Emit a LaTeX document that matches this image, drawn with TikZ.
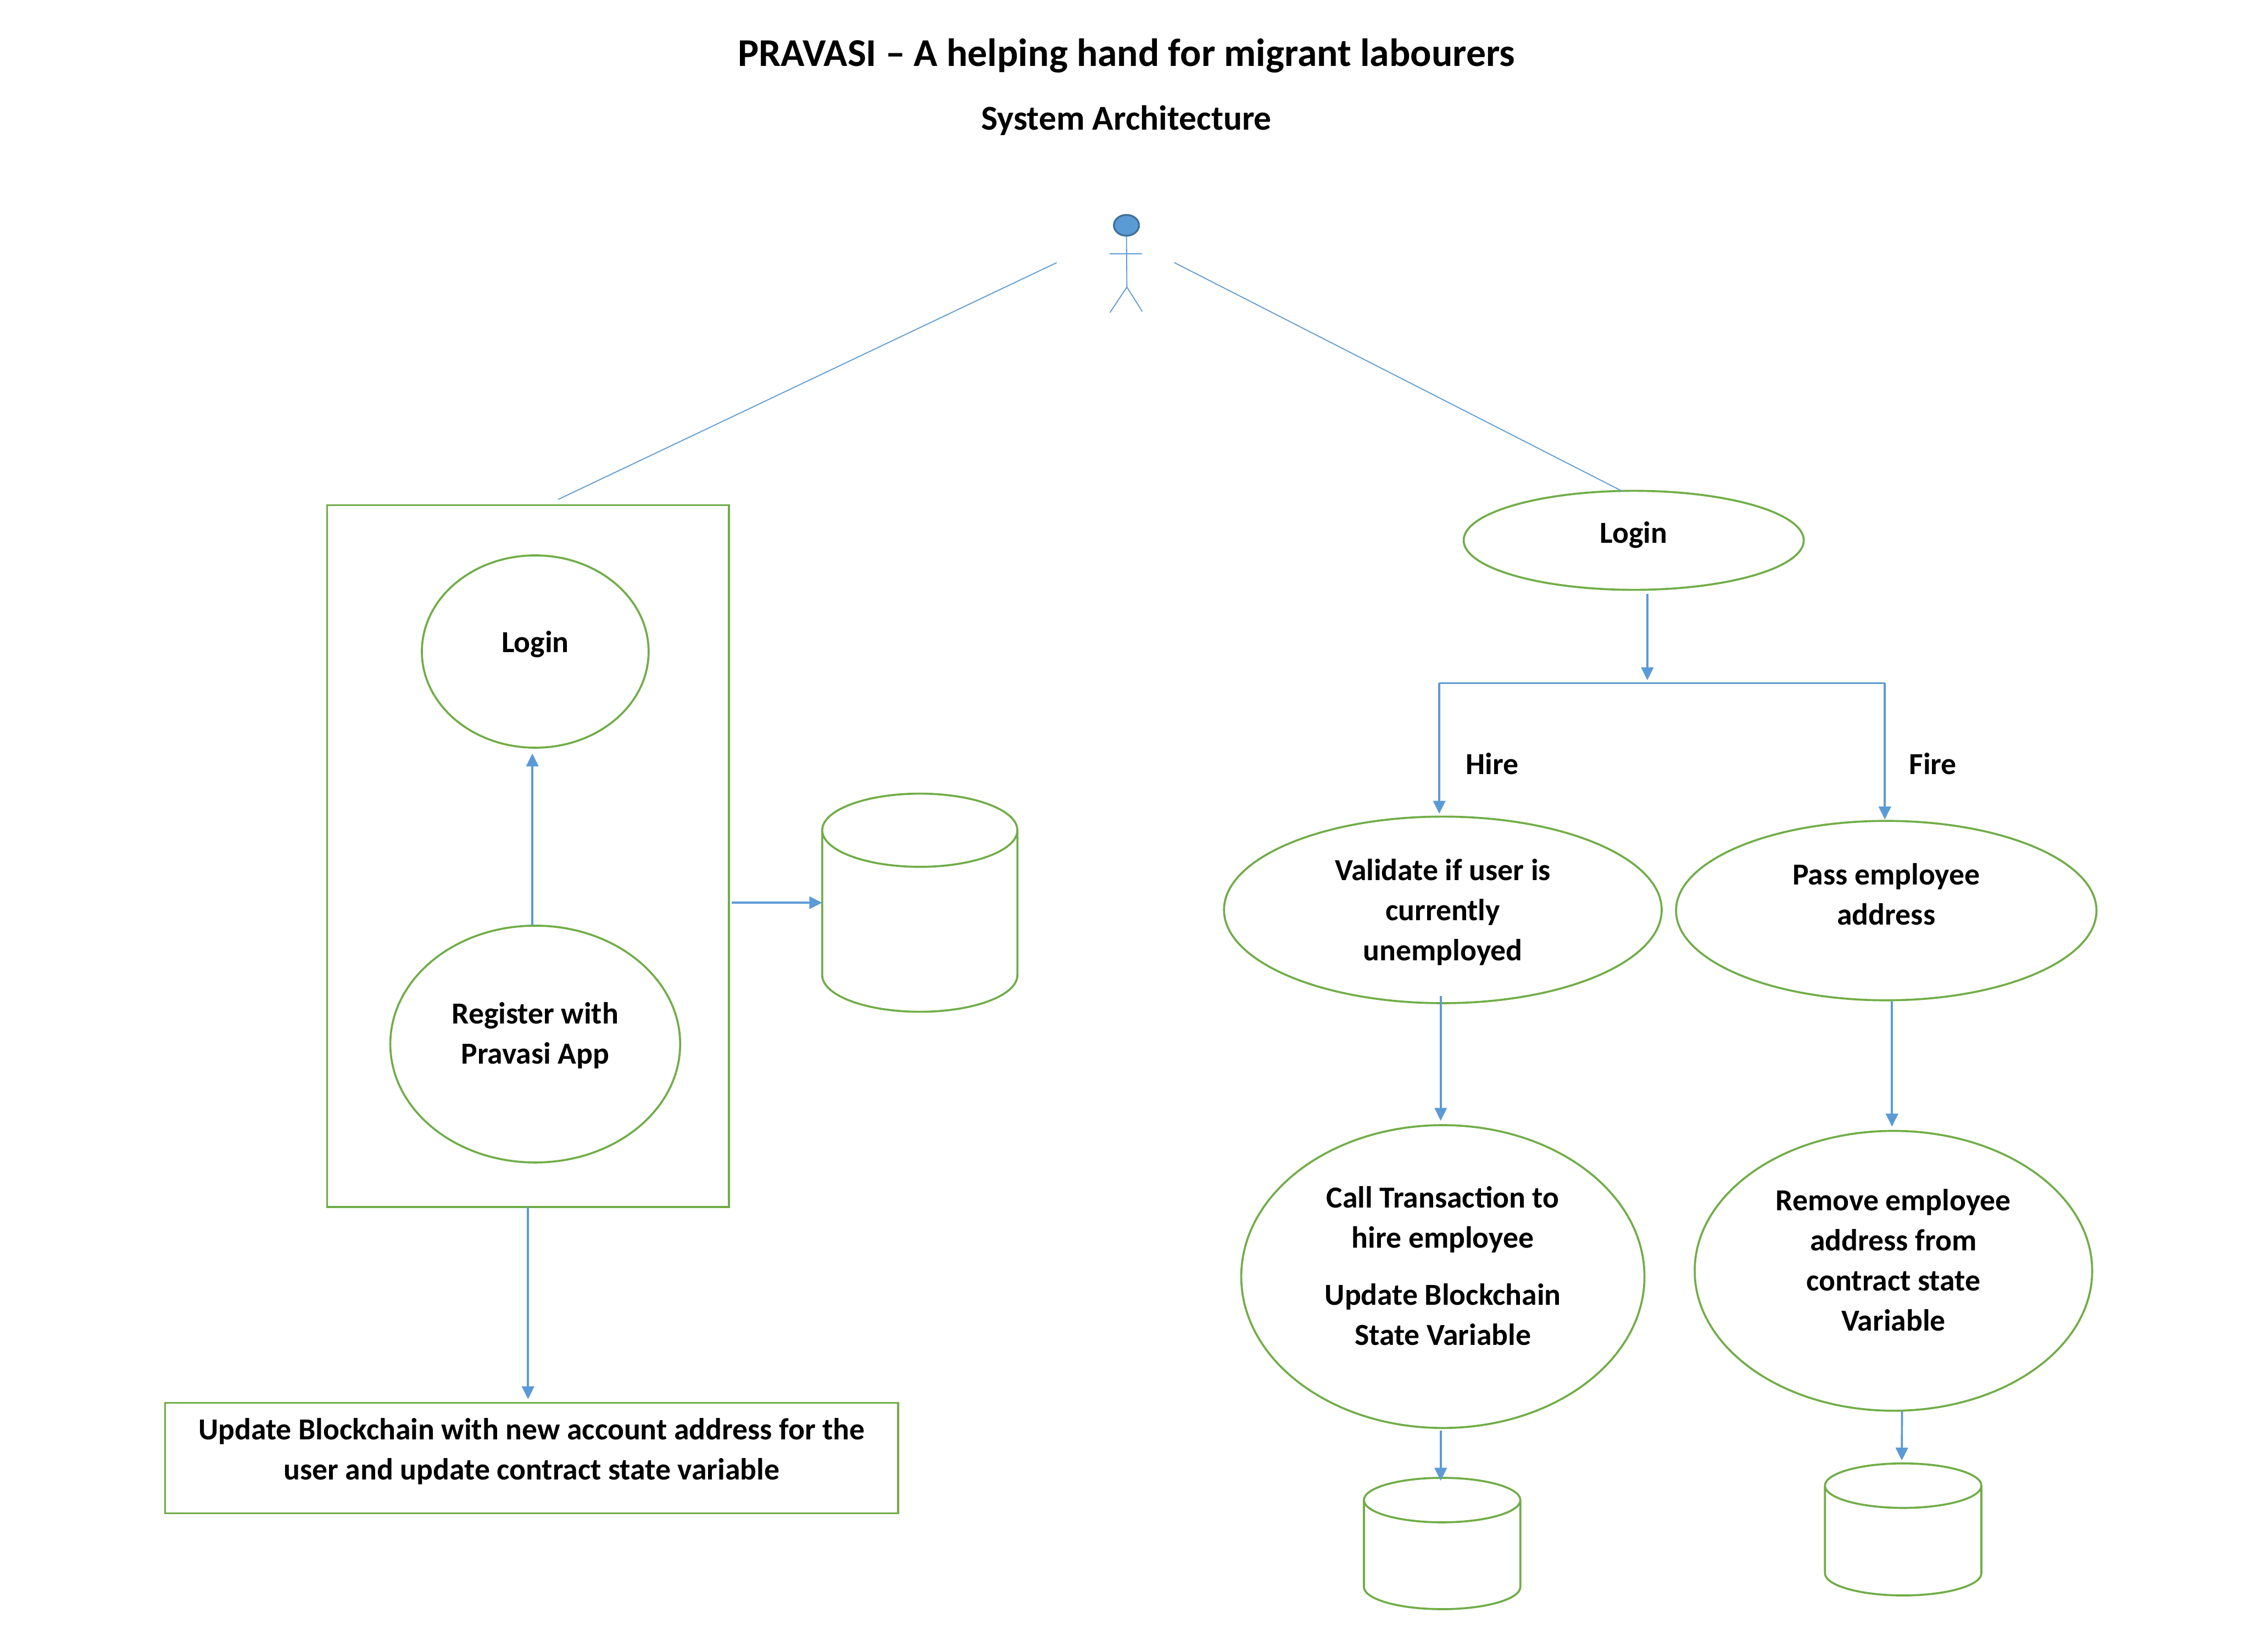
\documentclass[tikz,border=0pt]{standalone}
\usepackage{fontspec}
\setmainfont{Carlito}
\usetikzlibrary{shapes.geometric,arrows.meta}
\definecolor{flowblue}{HTML}{5B9BD5}
\definecolor{headblue}{HTML}{41719C}
\definecolor{boxgreen}{HTML}{70AD47}
\newcommand{\drum}[3]{%
    \draw[drumline] ([yshift=-#3]#1.north west)
        arc[start angle=180, end angle=540, x radius=#2, y radius=#3]
        -- ([yshift=#3]#1.south west)
        arc[start angle=180, end angle=360, x radius=#2, y radius=#3]
        -- ([yshift=-#3]#1.north east);}
\begin{document}
\begin{tikzpicture}[x=1pt, y=-1pt,
    txt/.style={font=\bfseries\fontsize{21.3}{28}\selectfont, align=center, inner sep=0pt, outer sep=0pt},
    oval/.style={txt, draw=boxgreen, line width=1.4pt, ellipse},
    frame/.style={txt, draw=boxgreen, line width=1.4pt, rectangle},
    store/.style={rectangle, inner sep=0pt, outer sep=0pt},
    drumline/.style={draw=boxgreen, line width=1.4pt},
    arr/.style={draw=flowblue, line width=1.4pt, -{Triangle[length=9pt, width=8.5pt, fill=flowblue]}},
    wire/.style={draw=flowblue, line width=0.7pt}]
    \useasboundingbox (0,0) rectangle (1568,1151);

    \node (title) [txt, font=\bfseries\fontsize{27.4}{32}\selectfont] at (785,39)
    {PRAVASI – A helping hand for migrant labourers};
    \node (subtitle) [txt, font=\bfseries\fontsize{24.3}{28}\selectfont] at (785,84)
    {System Architecture};

    \node (head) [ellipse, draw=headblue, fill=flowblue, line width=1.3pt, inner sep=0pt, minimum width=17.5pt, minimum height=14.5pt] at (785,157) {};
    \coordinate (hip) at (785.3,200);
    \coordinate (armL) at (773.4,176.7);
    \coordinate (armR) at (796,176.7);
    \coordinate (footL) at (773.5,217.8);
    \coordinate (footR) at (796,217);
    \draw[wire] (head.south) -- (hip);
    \draw[wire] (armL) -- (armR);
    \draw[wire] (footL) -- (hip) -- (footR);

    \node (regbox) [frame, minimum width=280pt, minimum height=489pt] at (368,596.5) {};
    \node (login1) [oval, minimum width=158pt, minimum height=134pt] at (373,454)
    {Login\\[-14pt]};
    \node (regapp) [oval, minimum width=202pt, minimum height=165pt, below of=login1, node distance=273.5pt]
    {Register with\\Pravasi App\\[-13pt]};
    \node (db1) [store, minimum width=136pt, minimum height=152pt] at (641,629) {};
    \drum{db1}{68pt}{25.5pt}
    \node (update) [frame, minimum width=511pt, minimum height=77pt] at (370.5,1016)
    {Update Blockchain with new account address for the\\user and update contract state variable\\[-15pt]};

    \node (login2) [oval, minimum width=237pt, minimum height=69pt] at (1138.5,376.5)
    {Login\\[-17pt]};
    \coordinate (branchL) at (1003,476);
    \coordinate (branchM) at (1148,476);
    \coordinate (branchR) at (1313.5,476);
    \node (validate) [oval, minimum width=305pt, minimum height=130pt] at (1005.5,634)
    {Validate if user is\\currently\\unemployed\\[-28pt]};
    \node (pass) [oval, minimum width=293pt, minimum height=125pt] at (1314.5,634.5)
    {Pass employee\\address\\[-5pt]};
    \node (hire) [oval, minimum width=281pt, minimum height=211pt, below of=validate, node distance=255.5pt]
    {Call Transaction to\\hire employee\\[12pt]Update Blockchain\\State Variable\\[-13pt]};
    \node (remove) [oval, minimum width=277pt, minimum height=195pt] at (1319.5,885.5)
    {Remove employee\\address from\\contract state\\Variable\\[-13pt]};
    \node (db2) [store, minimum width=109pt, minimum height=91.5pt] at (1005,1075.5) {};
    \drum{db2}{54.5pt}{15.5pt}
    \node (db3) [store, minimum width=109pt, minimum height=92pt] at (1326.3,1065.7) {};
    \drum{db3}{54.5pt}{15.5pt}

    \node (hirelbl) [txt] at (1040,532) {Hire};
    \node (firelbl) [txt] at (1347,532) {Fire};

    \coordinate (actorL) at (736.4,183);
    \coordinate (actorR) at (818.4,183);
    \draw[wire] (actorL) -- ([xshift=21pt,yshift=4pt]regbox.north);
    \draw[wire] (actorR) -- ([xshift=-8.5pt]login2.north);

    \draw[arr] ([xshift=-2pt]regapp.north) -- ([xshift=-2pt,yshift=-4pt]login1.south);
    \draw[arr] ([xshift=2pt]regbox.east |- db1.center) -- (db1.west);
    \draw[arr] (regbox.south) -- ([xshift=-2.5pt,yshift=2.5pt]update.north);
    \draw[arr] ([xshift=9.5pt,yshift=-3pt]login2.south) -- ([yshift=2pt]branchM);
    \draw[wire, line width=1pt] (branchL) -- (branchR);
    \draw[arr] (branchL) -- ([xshift=-2.5pt,yshift=2pt]validate.north);
    \draw[arr] (branchR) -- ([xshift=-1pt,yshift=1pt]pass.north);
    \draw[arr] ([xshift=-1.5pt,yshift=5pt]validate.south) -- ([xshift=-1.5pt,yshift=3pt]hire.north);
    \draw[arr] ([xshift=4pt,yshift=-1pt]pass.south) -- ([xshift=-1pt,yshift=3pt]remove.north);
    \draw[arr] ([xshift=-1.5pt,yshift=-2pt]hire.south) -- ([xshift=-1pt,yshift=-2pt]db2.north);
    \draw[arr] ([xshift=6pt]remove.south) -- ([xshift=-1pt,yshift=2pt]db3.north);
\end{tikzpicture}
\end{document}
